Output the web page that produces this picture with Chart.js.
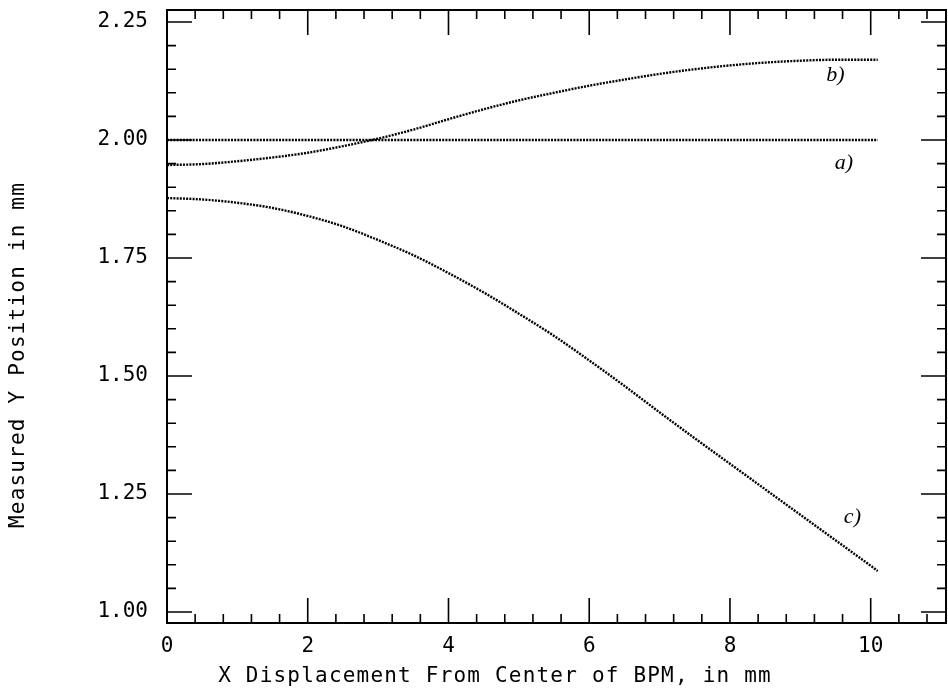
<!DOCTYPE html>
<html>
<head>
<meta charset="utf-8">
<script src="https://cdn.jsdelivr.net/npm/chart.js@4/dist/chart.umd.min.js"></script>
<style>
  html, body { margin: 0; padding: 0; background: #fff; }
  #c { display: block; }
</style>
</head>
<body>
<canvas id="c" width="948" height="692"></canvas>
<script>
// X displacement (mm) at which the three responses are sampled
const xDisplacement = [0, 0.5, 1, 1.5, 2, 2.5, 3, 3.5, 4, 4.5, 5, 5.5, 6, 6.5, 7, 7.5, 8, 8.5, 9, 9.5, 10, 10.1];

// a) ideal response: measured Y stays at 2.00 mm
const responseA = [2.000, 2.000, 2.000, 2.000, 2.000, 2.000, 2.000, 2.000, 2.000, 2.000, 2.000,
                   2.000, 2.000, 2.000, 2.000, 2.000, 2.000, 2.000, 2.000, 2.000, 2.000, 2.000];
// b) measured Y rising with X displacement
const responseB = [1.947, 1.949, 1.955, 1.963, 1.973, 1.987, 2.003, 2.022, 2.044, 2.065, 2.084,
                   2.100, 2.115, 2.128, 2.140, 2.150, 2.158, 2.164, 2.168, 2.170, 2.170, 2.170];
// c) measured Y falling with X displacement
const responseC = [1.877, 1.874, 1.867, 1.856, 1.839, 1.817, 1.788, 1.756, 1.718, 1.677, 1.632,
                   1.585, 1.533, 1.479, 1.423, 1.368, 1.314, 1.260, 1.206, 1.152, 1.098, 1.087];

const curveNames = ['a)', 'b)', 'c)'];
const xTickLabels = [0, 2, 4, 6, 8, 10];
const yTickLabels = [1.00, 1.25, 1.50, 1.75, 2.00, 2.25];

const xTitle = 'X Displacement From Center of BPM, in mm';
const yTitle = 'Measured Y Position in mm';

// where each curve's name is written, in data units
const nameAnchorX = [9.62, 9.5, 9.74];
const nameAnchorY = [1.951, 2.138, 1.201];

const MONO = '"DejaVu Sans Mono", "Liberation Mono", monospace';
const toPoints = ys => xDisplacement.map((x, i) => ({ x, y: ys[i] }));

const dotted = {
  borderColor: '#000',
  borderWidth: 2.4,
  borderDash: [2, 1.2],
  pointRadius: 0,
  fill: false,
  cubicInterpolationMode: 'monotone'
};

// Boxed frame with inward ticks on all four sides, axis titles and curve names
const framePlugin = {
  id: 'frame',
  afterDraw(chart) {
    const { ctx, chartArea: a, scales: { x, y } } = chart;
    ctx.save();
    ctx.strokeStyle = '#000';
    ctx.lineWidth = 2;
    ctx.strokeRect(a.left, a.top, a.right - a.left, a.bottom - a.top);

    ctx.lineWidth = 1.6;
    ctx.beginPath();
    for (let i = 0; i <= 27; i++) {
      const px = x.getPixelForValue(i * 0.4);
      if (px > a.right - 1) break;
      const len = i % 5 === 0 ? 25 : 9;
      ctx.moveTo(px, a.bottom); ctx.lineTo(px, a.bottom - len);
      ctx.moveTo(px, a.top); ctx.lineTo(px, a.top + len);
    }
    for (let i = 0; i <= 25; i++) {
      const py = y.getPixelForValue(1 + i * 0.05);
      const len = i % 5 === 0 ? 25 : 9;
      ctx.moveTo(a.left, py); ctx.lineTo(a.left + len, py);
      ctx.moveTo(a.right, py); ctx.lineTo(a.right - len, py);
    }
    ctx.stroke();

    // axis titles
    ctx.fillStyle = '#000';
    ctx.font = '21px ' + MONO;
    ctx.letterSpacing = '1.2px';
    ctx.textAlign = 'center';
    ctx.textBaseline = 'middle';
    ctx.fillText(xTitle, 495, 677);
    ctx.save();
    ctx.translate(19, 355);
    ctx.rotate(-Math.PI / 2);
    ctx.fillText(yTitle, 0, 0);
    ctx.restore();
    ctx.letterSpacing = '0px';

    // curve names
    ctx.font = 'italic 22px "Liberation Serif", "DejaVu Serif", serif';
    curveNames.forEach((name, i) => {
      ctx.fillText(name, x.getPixelForValue(nameAnchorX[i]), y.getPixelForValue(nameAnchorY[i]));
    });
    ctx.restore();
  }
};

new Chart(document.getElementById('c'), {
  type: 'line',
  data: {
    datasets: [
      { label: curveNames[0], data: toPoints(responseA), ...dotted },
      { label: curveNames[1], data: toPoints(responseB), ...dotted },
      { label: curveNames[2], data: toPoints(responseC), ...dotted }
    ]
  },
  options: {
    responsive: false,
    animation: false,
    devicePixelRatio: 1,
    layout: { padding: { top: 10, right: 2, left: 0, bottom: 0 } },
    plugins: { legend: { display: false }, tooltip: { enabled: false } },
    scales: {
      x: {
        type: 'linear',
        min: 0,
        max: 11.07,
        afterBuildTicks: s => { s.ticks = xTickLabels.map(v => ({ value: v })); },
        afterFit: s => { s.height = 69; },
        border: { display: false },
        grid: { drawOnChartArea: false, color: 'rgba(0,0,0,0)', tickLength: 13 },
        ticks: {
          padding: 0,
          maxRotation: 0,
          autoSkip: false,
          color: '#000',
          font: { family: MONO, size: 21, lineHeight: 1 },
          callback: v => String(v)
        }
      },
      y: {
        type: 'linear',
        min: 0.9767,
        max: 2.2754,
        afterBuildTicks: s => { s.ticks = yTickLabels.map(v => ({ value: v })); },
        afterFit: s => { s.width = 167; },
        border: { display: false },
        grid: { drawOnChartArea: false, color: 'rgba(0,0,0,0)', tickLength: 19 },
        ticks: {
          padding: 0,
          autoSkip: false,
          color: '#000',
          font: { family: MONO, size: 21, lineHeight: 0.9 },
          callback: v => v.toFixed(2)
        }
      }
    }
  },
  plugins: [framePlugin]
});
</script>
</body>
</html>
